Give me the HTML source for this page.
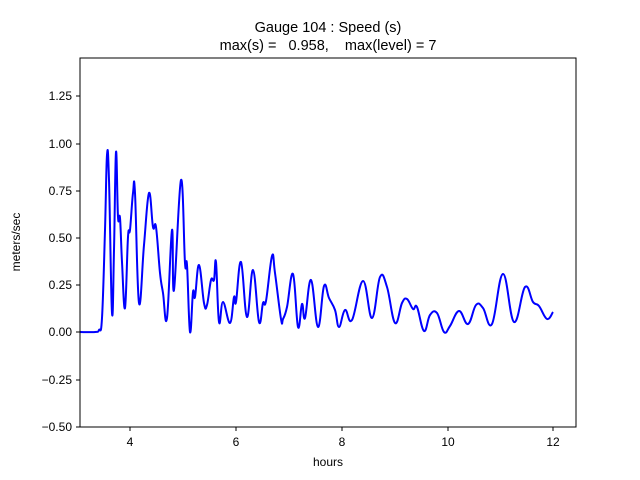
<!DOCTYPE html>
<html><head><style>body{margin:0;background:#fff}svg{display:block}</style></head><body>
<svg width="640" height="480" xmlns="http://www.w3.org/2000/svg" font-family="Liberation Sans, DejaVu Sans, sans-serif">
<rect width="640" height="480" fill="#fff"/>
<text x="328" y="32" font-size="14.5" text-anchor="middle">Gauge 104 : Speed (s)</text>
<text x="328" y="50" font-size="14.5" text-anchor="middle" xml:space="preserve">max(s) =   0.958,    max(level) = 7</text>
<path id="c" fill="none" stroke="#0000ff" stroke-width="2" stroke-linejoin="round" d=""/>
<rect x="80" y="58" width="496" height="369" fill="none" stroke="#000" stroke-width="1"/>
<g stroke="#000">
<line x1="130" y1="427" x2="130" y2="431"/><line x1="236" y1="427" x2="236" y2="431"/><line x1="342" y1="427" x2="342" y2="431"/><line x1="448" y1="427" x2="448" y2="431"/><line x1="553" y1="427" x2="553" y2="431"/>
<line x1="76" y1="427" x2="80" y2="427"/><line x1="76" y1="380" x2="80" y2="380"/><line x1="76" y1="332" x2="80" y2="332"/><line x1="76" y1="285" x2="80" y2="285"/><line x1="76" y1="238" x2="80" y2="238"/><line x1="76" y1="191" x2="80" y2="191"/><line x1="76" y1="144" x2="80" y2="144"/><line x1="76" y1="96" x2="80" y2="96"/>
</g>
<g font-size="12" text-anchor="middle">
<text x="130" y="446">4</text><text x="236" y="446">6</text><text x="342" y="446">8</text><text x="448" y="446">10</text><text x="553" y="446">12</text>
<text x="328" y="466">hours</text>
</g>
<g font-size="12" text-anchor="end">
<text x="72" y="431">−0.50</text><text x="72" y="384">−0.25</text><text x="72" y="336">0.00</text><text x="72" y="289">0.25</text><text x="72" y="242">0.50</text><text x="72" y="195">0.75</text><text x="72" y="148">1.00</text><text x="72" y="100">1.25</text>
</g>
<text transform="translate(20,242) rotate(-90)" font-size="12" text-anchor="middle">meters/sec</text>
</svg>
<script>
var p=[[80,332],[95,332],[99,330],[102,318],[105,230],[107,155],[109,180],[112,313],[114,250],[116,152],[118,217],[120,218],[122,262],[125,308],[128,237],[130,230],[133,193],[135,193],[139,303],[144,245],[149,193],[153,227],[156,227],[160,273],[163,293],[167,318],[172,230],[174,290],[181,180],[185,263],[187,265],[190,332],[193,292],[195,297],[199,265],[204,303],[207,305],[211,280],[214,280],[216,262],[219,322],[223,302],[230,323],[234,297],[236,302],[241,262],[247,317],[253,270],[259,322],[263,303],[266,301],[272,256],[275,273],[281,319],[283,319],[287,307],[293,274],[298,327],[302,304],[305,318],[311,280],[318,327],[324,286],[329,298],[335,310],[339,327],[345,310],[352,320],[363,281],[372,318],[380,277],[387,287],[395,323],[402,303],[407,299],[413,309],[417,307],[424,331],[430,315],[437,313],[444,332],[450,326],[459,311],[468,324],[476,305],[483,308],[492,324],[503,274],[514,322],[525,287],[533,302],[539,306],[547,319],[553,312]];
var d="M"+p[0][0]+","+p[0][1];
for(var i=0;i<p.length-1;i++){var a=p[Math.max(i-1,0)],b=p[i],c=p[i+1],e=p[Math.min(i+2,p.length-1)];
var t=0.2;d+=" C"+(b[0]+(c[0]-a[0])*t)+","+(b[1]+(c[1]-a[1])*t)+" "+(c[0]-(e[0]-b[0])*t)+","+(c[1]-(e[1]-b[1])*t)+" "+c[0]+","+c[1];}
document.getElementById("c").setAttribute("d",d);
</script>
</body></html>
